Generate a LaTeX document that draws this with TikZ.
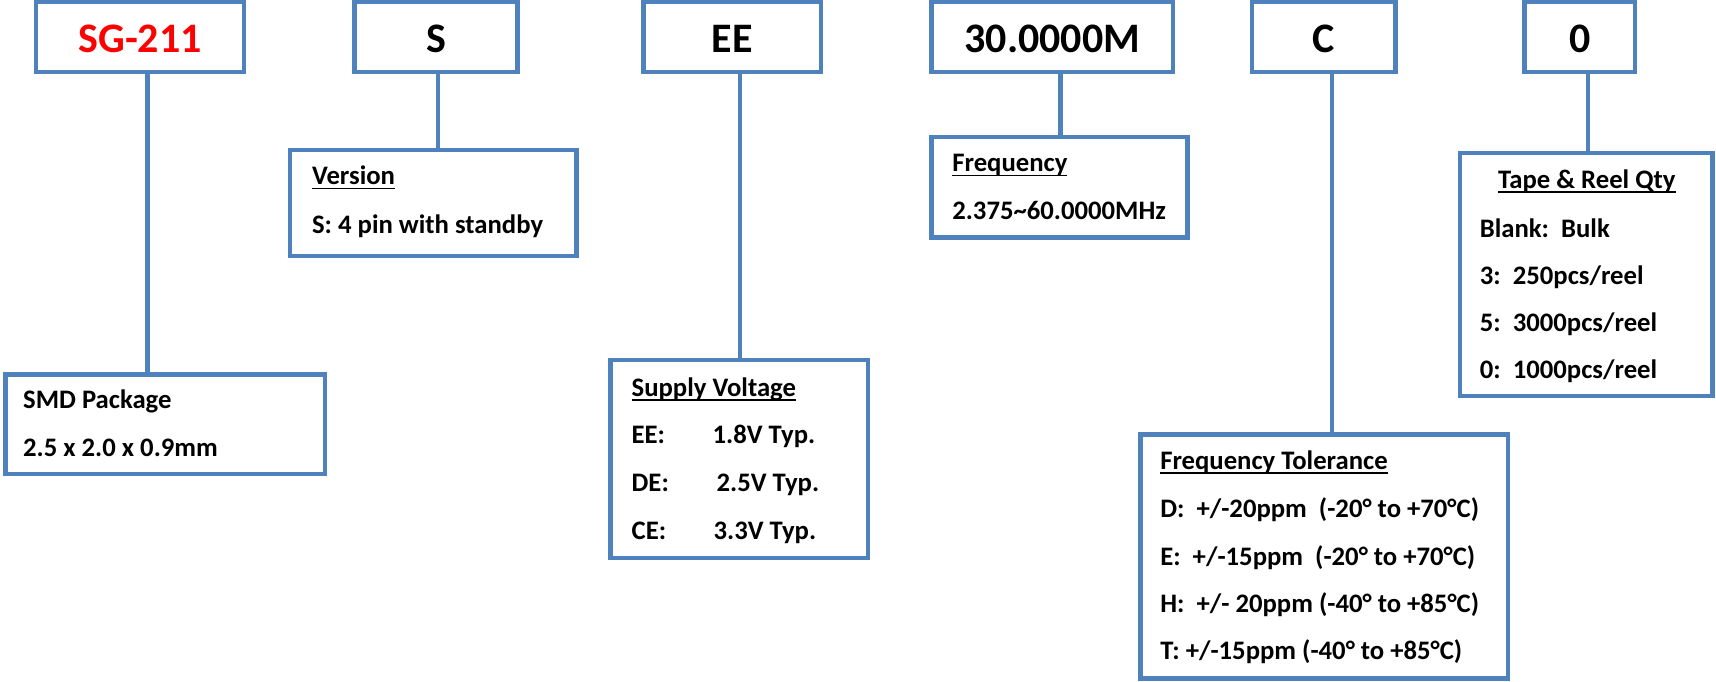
\documentclass[tikz,border=0pt]{standalone}
\usepackage{fontspec}
\setmainfont{Carlito}
\usetikzlibrary{fit}
\definecolor{boxblue}{HTML}{4F81BD}
\newcommand{\ulin}[1]{\sbox0{#1}\rlap{\rule[-4.5pt]{\wd0}{1.8pt}}\usebox0}
\begin{document}
\begin{tikzpicture}[x=1.0944pt,y=-1.0944pt,
  box/.style={draw=boxblue,line width=4.5pt,inner sep=0pt,rectangle},
  code/.style={font=\fontsize{42}{50}\selectfont\bfseries,anchor=base,inner sep=0pt},
  txt/.style={font=\fontsize{26.7}{32}\selectfont\bfseries,anchor=base west,inner sep=0pt},
  conn/.style={draw=boxblue,line width=4.5pt}]
\useasboundingbox (0,0) rectangle (1568,623);
% top code boxes
\node[box,fit={(33,2)(223,66)}] (sg) {};
\node[box,fit={(324,2)(473,66)}] (s) {};
\node[box,fit={(588,2)(750,66)}] (ee) {};
\node[box,fit={(851,2)(1072,66)}] (fq) {};
\node[box,fit={(1144,2)(1275,66)}] (c) {};
\node[box,fit={(1393,2)(1494,66)}] (z) {};
\node[code,text=red] (sgt) at (128,48) {SG-211};
\node[code] (st) at (398.5,48) {S};
\node[code] (eet) at (669,48) {EE};
\node[code] (fqt) at (961.5,48) {30.0000M};
\node[code] (ct) at (1209.5,48) {C};
\node[code] (zt) at (1443.5,48) {0};
% description boxes
\node[box,fit={(5,342)(297,433)}] (smd) {};
\node[box,fit={(265,137)(527,234)}] (ver) {};
\node[box,fit={(558,329)(793,510)}] (sup) {};
\node[box,fit={(851,125)(1085,217)}] (frq) {};
\node[box,fit={(1334,140)(1565,362)}] (tape) {};
\node[box,fit={(1042,397)(1378,620)}] (tol) {};
% texts
\node[txt] (smd1) at (21,373) {SMD Package};
\node[txt] (smd2) at (21,417) {2.5 x 2.0 x 0.9mm};
\node[txt] (ver1) at (285,169) {\ulin{Version}};
\node[txt] (ver2) at (285,213) {S: 4 pin with standby};
\node[txt] (sup1) at (577,362) {\ulin{Supply Voltage}};
\node[txt] (sup2) at (577,405) {\makebox[81pt][l]{EE:}1.8V Typ.};
\node[txt] (sup3) at (577,449) {\makebox[85pt][l]{DE:}2.5V Typ.};
\node[txt] (sup4) at (577,493) {\makebox[82pt][l]{CE:}3.3V Typ.};
\node[txt] (frq1) at (870,157) {\ulin{Frequency}};
\node[txt] (frq2) at (870,201) {2.375\textasciitilde 60.0000MHz};
\node[txt,anchor=base] (tape1) at (1450,172) {\ulin{Tape \& Reel Qty}};
\node[txt] (tape2) at (1352,217) {Blank:\ \ Bulk};
\node[txt] (tape3) at (1352,260) {3:\ \ 250pcs/reel};
\node[txt] (tape4) at (1352,303) {5:\ \ 3000pcs/reel};
\node[txt] (tape5) at (1352,346) {0:\ \ 1000pcs/reel};
\node[txt] (tol1) at (1060,429) {\ulin{Frequency Tolerance}};
\node[txt] (tol2) at (1060,473) {D:\ \ +/-20ppm\ \ (-20° to +70°C)};
\node[txt] (tol3) at (1060,517) {E:\ \ +/-15ppm\ \ (-20° to +70°C)};
\node[txt] (tol4) at (1060,560) {H:\ \ +/- 20ppm (-40° to +85°C)};
\node[txt] (tol5) at (1060,603) {T: +/-15ppm (-40° to +85°C)};
% connectors
\coordinate (k1) at (135,0);
\coordinate (k2) at (400,0);
\coordinate (k3) at (676,0);
\coordinate (k4) at (969,0);
\coordinate (k5) at (1217,0);
\coordinate (k6) at (1451,0);
\draw[conn] (sg.south -| k1) -- (smd.north -| k1);
\draw[conn] (s.south -| k2) -- (ver.north -| k2);
\draw[conn] (ee.south -| k3) -- (sup.north -| k3);
\draw[conn] (fq.south -| k4) -- (frq.north -| k4);
\draw[conn] (c.south -| k5) -- (tol.north -| k5);
\draw[conn] (z.south -| k6) -- (tape.north -| k6);
\end{tikzpicture}
\end{document}
